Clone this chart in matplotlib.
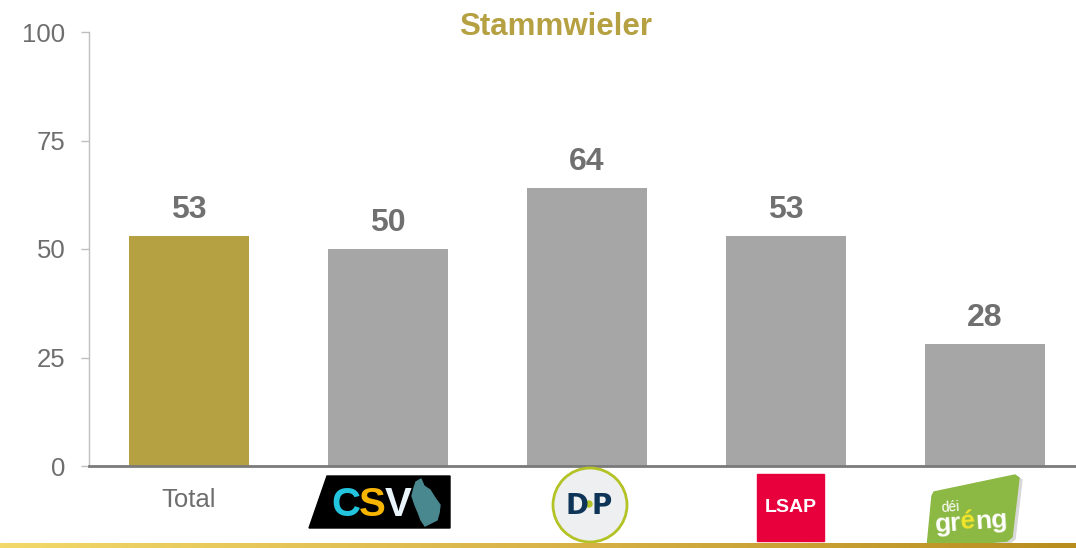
import numpy as np
import matplotlib
matplotlib.use("Agg")
import matplotlib.pyplot as plt
from matplotlib.patches import Polygon, Rectangle, Circle
from matplotlib.colors import LinearSegmentedColormap

# ---- data ----
title = "Stammwieler"
categories = ["Total", "CSV", "DP", "LSAP", "déi gréng"]
tick_labels = ["Total", "", "", "", ""]
values = [53, 50, 64, 53, 28]
yticks = [0, 25, 50, 75, 100]

GOLD = "#B5A042"
GREY = "#A6A6A6"
bar_colors = [GOLD, GREY, GREY, GREY, GREY]
TXT = "#6E6E6E"

plt.rcParams['font.family'] = ['Liberation Sans', 'DejaVu Sans']

W, H = 1076, 548
fig = plt.figure(figsize=(W / 100, H / 100), dpi=100)
ax = fig.add_axes([89 / W, (H - 466) / H, (W - 89) / W, (466 - 32) / H])

x = np.arange(len(categories))
bars = ax.bar(x, values, width=0.603, color=bar_colors, zorder=2)
for xi, v in zip(x, values):
    ax.annotate(f"{v}", (xi, v), xytext=(0, 8), textcoords="offset points",
                ha="center", va="bottom", fontsize=23, fontweight="bold", color="#707070")

ax.set_xlim(-100 / 199, 4 + 91 / 199)
ax.set_ylim(0, 100)
ax.set_yticks(yticks)
ax.set_yticklabels([str(t) for t in yticks], fontsize=18.5, color=TXT)
ax.set_xticks(x)
ax.set_xticklabels(tick_labels, fontsize=18.5, color=TXT)
ax.tick_params(axis="x", length=0, pad=16)
ax.tick_params(axis="y", length=6, width=1, color="#BFBFBF", pad=11)
for s in ["top", "right"]:
    ax.spines[s].set_visible(False)
ax.spines["left"].set_color("#BFBFBF")
ax.spines["left"].set_linewidth(1.0)
ax.spines["bottom"].set_color("#7A7A7A")
ax.spines["bottom"].set_linewidth(2.0)
ax.spines["bottom"].set_zorder(3)

fig.text(556 / W, 1 - 27 / H, title, ha="center", va="center", fontsize=22.5,
         fontweight="bold", color="#B5A042")

# ---- overlay in image pixel coords for logos and bottom band ----
ov = fig.add_axes([0, 0, 1, 1], zorder=5)
ov.set_xlim(0, W)
ov.set_ylim(H, 0)
ov.axis("off")
ov.patch.set_alpha(0)

fig.canvas.draw()
centers = [ax.transData.transform((xi, 0))[0] for xi in x]

# CSV logo
cx = centers[1]
ov.add_patch(Polygon([[cx - 79, 528], [cx - 61, 476], [cx + 62, 476], [cx + 62, 528]],
                     closed=True, color="black"))
for dx, ch, col in [(-42, "C", "#22C4DE"), (-16, "S", "#F7B500"), (10, "V", "#EAF5FB")]:
    ov.text(cx + dx, 505, ch, fontsize=29, fontweight="bold", color=col,
            ha="center", va="center", family="Liberation Sans")
lux = np.array([[28, 482], [33, 479], [36, 486], [42, 490], [47, 498], [52, 505],
                [51, 513], [49, 520], [43, 523], [37, 526], [33, 520], [30, 512],
                [27, 505], [24, 496], [26, 488]], float)
lux[:, 0] += cx
ov.add_patch(Polygon(lux, closed=True, color="#4A8890"))

# DP logo
cx = centers[2] + 3
ov.add_patch(Circle((cx, 505), 37, facecolor="#EEEFF1", edgecolor="#B3C224", linewidth=2))
ov.text(cx - 13, 506, "D", fontsize=20, fontweight="bold", color="#0E3457",
        ha="center", va="center", family="DejaVu Sans")
ov.text(cx + 12, 506, "P", fontsize=20, fontweight="bold", color="#0E3457",
        ha="center", va="center", family="DejaVu Sans")
ov.add_patch(Circle((cx - 1, 504), 3, color="#B3C224"))

# LSAP logo
cx = centers[3]
ov.add_patch(Rectangle((cx - 29, 474), 67, 67, color="#E8003D"))
ov.text(cx + 4.5, 508, "LSAP", fontsize=14, fontweight="bold", color="white",
        ha="center", va="center")

# déi gréng logo
cx = centers[4]
gv = np.array([[-51, 492], [30, 475], [34, 478], [27, 537], [22, 541], [-56, 548],
               [-58, 548], [-53, 496]], float)
sh = gv.copy(); sh[:, 0] += 3; sh[:, 1] += 2
sh[:, 0] += cx; gv[:, 0] += cx
ov.add_patch(Polygon(sh, closed=True, color="#D8D8D8"))
ov.add_patch(Polygon(gv, closed=True, color="#8CB844"))
ov.text(cx - 44, 507, "déi", fontsize=10, color="white", ha="left", va="center", rotation=4)
ov.text(cx - 51, 524, "gr", fontsize=19, fontweight="bold", color="white",
        ha="left", va="center", rotation=4)
ov.text(cx - 25, 522, "é", fontsize=19, fontweight="bold", color="#F2E52A",
        ha="left", va="center", rotation=4)
ov.text(cx - 10, 521, "ng", fontsize=19, fontweight="bold", color="white",
        ha="left", va="center", rotation=4)

# bottom gold band
grad = np.linspace(0, 1, 256)[None, :]
cmap = LinearSegmentedColormap.from_list("g", ["#F2D86A", "#D9B448", "#B88D1E"])
ov.imshow(grad, cmap=cmap, extent=[0, W, H, 543], aspect="auto", zorder=6)
ov.set_xlim(0, W)
ov.set_ylim(H, 0)

fig.savefig("out.png", dpi=100)
